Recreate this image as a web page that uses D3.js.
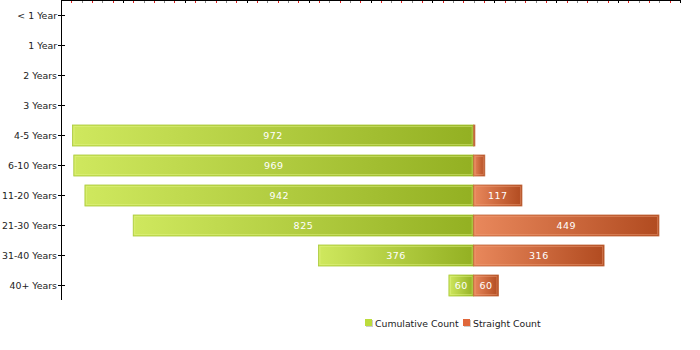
<!DOCTYPE html>
<html><head><meta charset="utf-8">
<script src="https://cdn.jsdelivr.net/npm/d3@7/dist/d3.min.js"></script>
<style>
body{margin:0;background:#fff;}
svg text{font-family:"DejaVu Sans",Verdana,sans-serif;}
</style></head>
<body><svg id="chart" width="700" height="350"></svg>
<script>
const categories = ["< 1 Year","1 Year","2 Years","3 Years","4-5 Years","6-10 Years","11-20 Years","21-30 Years","31-40 Years","40+ Years"];
const cumulative = [0,0,0,0,972,969,942,825,376,60];
const straight = [0,0,0,0,3,27,117,449,316,60];
const seriesNames = ["Cumulative Count","Straight Count"];
const xDomain = [-1000, 500];

const svg = d3.select("#chart");
const x = d3.scaleLinear().domain(xDomain).range([61, 680]);
const y = d3.scaleBand().domain(categories).range([0, 300]).paddingInner(0.3).paddingOuter(0.15);

const defs = svg.append("defs");
function grad(id, c1, c2){
  const g = defs.append("linearGradient").attr("id", id).attr("x1","0").attr("x2","1").attr("y1","0").attr("y2","0");
  g.append("stop").attr("offset","0").attr("stop-color",c1);
  g.append("stop").attr("offset","1").attr("stop-color",c2);
}
grad("gGreen", "#cfe85e", "#93b022");
grad("gOrange", "#e9885c", "#b14b20");

// top axis ticks
const tickVals = d3.range(xDomain[0], xDomain[1] + 1, 25);
svg.append("g").selectAll("line").data(tickVals).join("line")
  .attr("x1", d => Math.round(x(d)) + 0.5).attr("x2", d => Math.round(x(d)) + 0.5)
  .attr("y1", 0).attr("y2", 3)
  .attr("stroke", d => ((d - 500) % 150 === 0) ? "#000" : (Math.abs(d) % 50 === 25 ? "#e02020" : "#888"))
  .attr("stroke-width", 1);
svg.append("line").attr("x1", x(xDomain[0])).attr("x2", x(xDomain[1]) + 1).attr("y1", 0.5).attr("y2", 0.5).attr("stroke", "#000");

// left axis
svg.append("line").attr("x1", 61.5).attr("x2", 61.5).attr("y1", 0).attr("y2", 300).attr("stroke", "#000");
const yTickPos = c => Math.round(y(c) + y.bandwidth() / 2) + 0.5;
svg.append("g").selectAll("line").data(categories).join("line")
  .attr("x1", 58).attr("x2", 65).attr("y1", yTickPos).attr("y2", yTickPos).attr("stroke", "#000");
svg.append("g").selectAll("text").data(categories).join("text")
  .attr("x", 57).attr("y", c => yTickPos(c) + 3.5).attr("text-anchor", "end")
  .attr("font-size", 9.4).attr("fill", "#222").text(d => d);

const bh = y.bandwidth();
function drawBars(vals, sign, fill, stroke, inner){
  const g = svg.append("g");
  categories.forEach((c, i) => {
    const v = vals[i];
    if (!v) return;
    const x0 = sign < 0 ? x(-v) : x(0);
    const x1 = sign < 0 ? x(0) : x(v);
    const yy = Math.round(y(c)) ;
    const w = x1 - x0;
    g.append("rect").attr("x", x0).attr("y", yy).attr("width", w).attr("height", bh)
      .attr("fill", fill).attr("stroke", stroke).attr("stroke-width", 0.8);
    if (w > 4) g.append("rect").attr("x", x0 + 1.5).attr("y", yy + 1.5).attr("width", w - 3).attr("height", bh - 3)
      .attr("fill", "none").attr("stroke", inner).attr("stroke-width", 1).attr("opacity", 0.45);
    if (w > 20) g.append("text").attr("x", (x0 + x1) / 2).attr("y", yy + bh / 2 + 3.5)
      .attr("text-anchor", "middle").attr("font-size", 9.5).attr("fill", "#fff").attr("letter-spacing", 0.5).text(v);
  });
}
drawBars(cumulative, -1, "url(#gGreen)", "#a8c838", "#e4f58a");
drawBars(straight, 1, "url(#gOrange)", "#c0663a", "#f0a07a");

// legend
const legend = [{name: seriesNames[0], color: "#bcdc3c", x: 365}, {name: seriesNames[1], color: "#e0673a", x: 463}];
const lg = svg.append("g");
legend.forEach(l => {
  lg.append("rect").attr("x", l.x + 1).attr("y", 320).attr("width", 7).attr("height", 7).attr("fill", "#ccc");
  lg.append("rect").attr("x", l.x).attr("y", 319).attr("width", 7).attr("height", 7).attr("fill", l.color);
  lg.append("text").attr("x", l.x + 10).attr("y", 327).attr("font-size", 9.3).attr("fill", "#222").text(l.name);
});
</script></body></html>
